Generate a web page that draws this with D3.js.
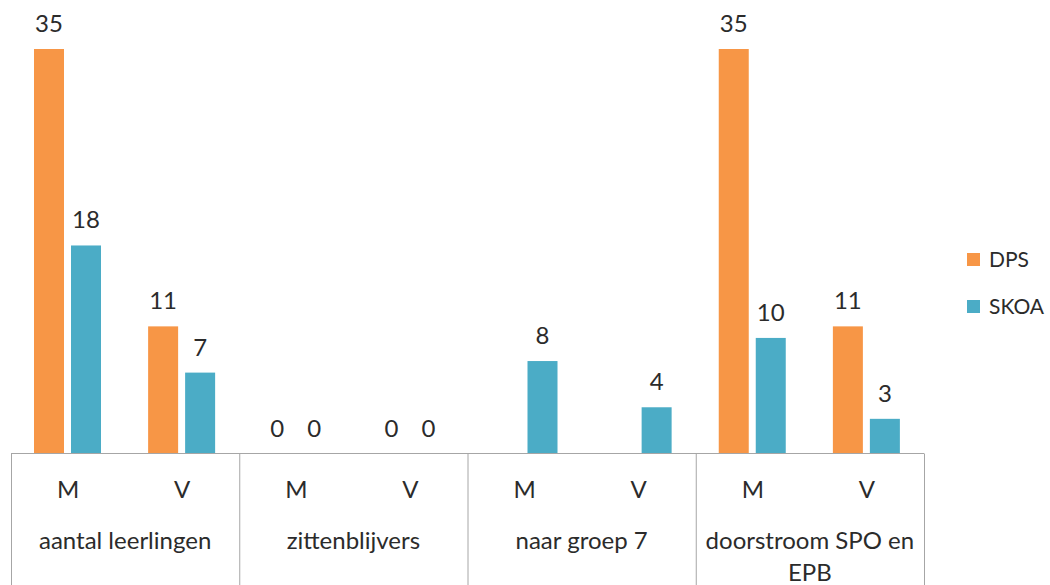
<!DOCTYPE html>
<meta charset="utf-8">
<style>
    body { margin: 0; background: #fff; }
    text { font-family: Lato, "Open Sans", sans-serif; fill: #2b2b2b; }
    .grid line { stroke: #a6a6a6; stroke-width: 1; }
</style>
<svg width="1050" height="585"></svg>
<script src="https://d3js.org/d3.v7.min.js"></script>
<script>
    var groups = ["aantal leerlingen", "zittenblijvers", "naar groep 7", "doorstroom SPO en EPB"];
    var subs = ["M", "V"];
    var series = ["DPS", "SKOA"];
    var colors = ["#f79646", "#4bacc6"];
    // one value per group/sub pair, in order; null = no bar and no label
    var dps = [35, 11, 0, 0, null, null, 35, 11];
    var skoa = [18, 7, 0, 0, 8, 4, 10, 3];

    var svg = d3.select("svg");
    var baseY = 453.5;
    var fs = 24;

    var x0 = d3.scaleBand().domain(groups).range([11, 924]);
    var x1 = d3.scaleBand().domain(subs).range([0, x0.bandwidth()]);
    var x2 = d3.scaleBand().domain(series).range([23, 90]).paddingInner(7 / 37);
    var y = d3.scaleLinear().domain([0, 35]).range([baseY, 49]);

    var rows = [];
    groups.forEach(function (g, gi) {
        subs.forEach(function (s, si) {
            var i = gi * 2 + si;
            rows.push({ group: g, sub: s, values: [dps[i], skoa[i]] });
        });
    });

    var cells = svg.append("g").selectAll("g")
        .data(rows)
        .enter().append("g")
        .attr("transform", function (d) {
            return "translate(" + (x0(d.group) + x1(d.sub)) + ",0)";
        });

    var bars = cells.selectAll("g")
        .data(function (d) {
            return series.map(function (s, k) { return { s: s, k: k, v: d.values[k] }; })
                .filter(function (e) { return e.v !== null; });
        })
        .enter().append("g");

    bars.append("rect")
        .attr("x", function (d) { return x2(d.s); })
        .attr("width", x2.bandwidth())
        .attr("y", function (d) { return y(d.v); })
        .attr("height", function (d) { return baseY - y(d.v); })
        .attr("fill", function (d) { return colors[d.k]; });

    bars.append("text")
        .attr("x", function (d) { return x2(d.s) + x2.bandwidth() / 2; })
        .attr("y", function (d) { return y(d.v) - 17; })
        .attr("text-anchor", "middle")
        .attr("font-size", fs)
        .text(function (d) { return d.v; });

    // category table under the bars
    var grid = svg.append("g").attr("class", "grid");
    grid.append("line")
        .attr("x1", x0.range()[0]).attr("x2", x0.range()[1])
        .attr("y1", baseY).attr("y2", baseY);
    grid.selectAll("line.v")
        .data(groups.concat(["end"]))
        .enter().append("line")
        .attr("class", "v")
        .attr("x1", function (d, i) { return i < groups.length ? x0(d) + 0.5 : x0.range()[1] + 0.5; })
        .attr("x2", function (d, i) { return i < groups.length ? x0(d) + 0.5 : x0.range()[1] + 0.5; })
        .attr("y1", baseY).attr("y2", 585);

    svg.append("g").selectAll("text")
        .data(rows)
        .enter().append("text")
        .attr("x", function (d) { return x0(d.group) + x1(d.sub) + x1.bandwidth() / 2; })
        .attr("y", 498)
        .attr("text-anchor", "middle")
        .attr("font-size", fs)
        .text(function (d) { return d.sub; });

    var glabels = svg.append("g").selectAll("text")
        .data(groups)
        .enter().append("text")
        .attr("x", function (d) { return x0(d) + x0.bandwidth() / 2; })
        .attr("y", 549)
        .attr("text-anchor", "middle")
        .attr("font-size", fs);

    glabels.each(function (d) {
        var t = d3.select(this), words = d.split(" "), line = [], lines = [];
        words.forEach(function (w) {
            t.text(line.concat([w]).join(" "));
            if (t.node().getComputedTextLength() > x0.bandwidth() - 6 && line.length) {
                lines.push(line.join(" "));
                line = [w];
            } else {
                line.push(w);
            }
        });
        lines.push(line.join(" "));
        t.text(null);
        lines.forEach(function (l, i) {
            t.append("tspan").attr("x", x0(d) + x0.bandwidth() / 2).attr("dy", i ? 32 : 0).text(l);
        });
    });

    var legend = svg.append("g").selectAll("g")
        .data(series)
        .enter().append("g")
        .attr("transform", function (d, i) { return "translate(967," + (253 + i * 47) + ")"; });
    legend.append("rect").attr("width", 13).attr("height", 13)
        .attr("fill", function (d, i) { return colors[i]; });
    legend.append("text").attr("x", 22).attr("y", 14).attr("font-size", 21)
        .text(function (d) { return d; });
</script>
